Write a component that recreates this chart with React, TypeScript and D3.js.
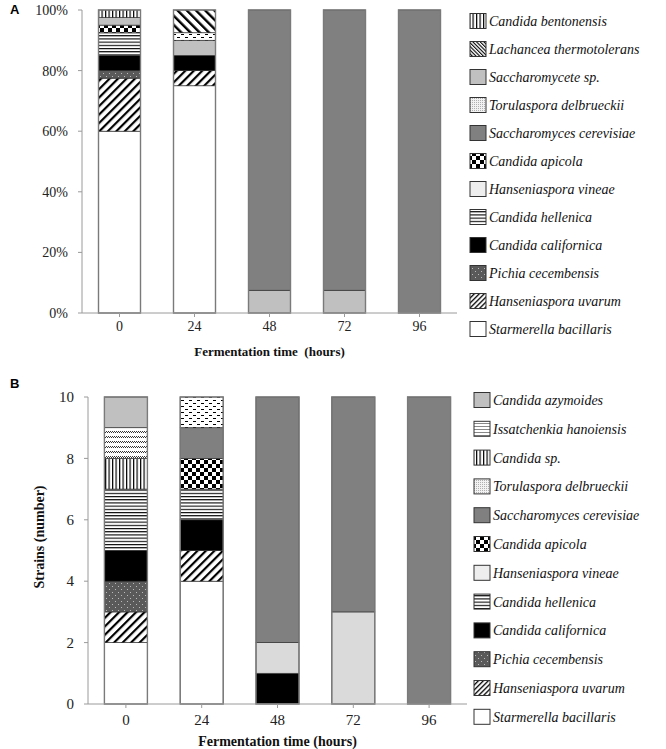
import React from "react";
import * as d3 from "d3";

// ---------- Data ----------
const times = ["0", "24", "48", "72", "96"];

// Panel A (% of isolates)
const speciesA = [
  "Starmerella bacillaris",
  "Hanseniaspora uvarum",
  "Pichia cecembensis",
  "Candida californica",
  "Candida hellenica",
  "Hanseniaspora vineae",
  "Candida apicola",
  "Saccharomyces cerevisiae",
  "Saccharomycete sp.",
  "Torulaspora delbrueckii",
  "Lachancea thermotolerans",
  "Candida bentonensis",
];
const valuesA: number[][] = [
  // 0h, 24h, 48h, 72h, 96h
  [60, 75, 0, 0, 0],
  [17.5, 5, 0, 0, 0],
  [2.5, 0, 0, 0, 0],
  [5, 5, 0, 0, 0],
  [7.5, 0, 0, 0, 0],
  [0, 0, 7.5, 7.5, 0],
  [2.5, 0, 0, 0, 0],
  [0, 0, 92.5, 92.5, 100],
  [2.5, 5, 0, 0, 0],
  [0, 2.5, 0, 0, 0],
  [0, 7.5, 0, 0, 0],
  [2.5, 0, 0, 0, 0],
];
const legendA = [
  "Candida bentonensis",
  "Lachancea thermotolerans",
  "Saccharomycete sp.",
  "Torulaspora delbrueckii",
  "Saccharomyces cerevisiae",
  "Candida apicola",
  "Hanseniaspora vineae",
  "Candida hellenica",
  "Candida californica",
  "Pichia cecembensis",
  "Hanseniaspora uvarum",
  "Starmerella bacillaris",
];
const ticksA = [0, 20, 40, 60, 80, 100];

// Panel B (number of strains)
const speciesB = [
  "Starmerella bacillaris",
  "Hanseniaspora uvarum",
  "Pichia cecembensis",
  "Candida californica",
  "Candida hellenica",
  "Hanseniaspora vineae",
  "Candida apicola",
  "Saccharomyces cerevisiae",
  "Torulaspora delbrueckii",
  "Candida sp.",
  "Issatchenkia hanoiensis",
  "Candida azymoides",
];
const valuesB: number[][] = [
  [2, 4, 0, 0, 0],
  [1, 1, 0, 0, 0],
  [1, 0, 0, 0, 0],
  [1, 1, 1, 0, 0],
  [2, 1, 0, 0, 0],
  [0, 0, 1, 3, 0],
  [0, 1, 0, 0, 0],
  [0, 1, 8, 7, 10],
  [0, 1, 0, 0, 0],
  [1, 0, 0, 0, 0],
  [1, 0, 0, 0, 0],
  [1, 0, 0, 0, 0],
];
const legendB = [
  "Candida azymoides",
  "Issatchenkia hanoiensis",
  "Candida sp.",
  "Torulaspora delbrueckii",
  "Saccharomyces cerevisiae",
  "Candida apicola",
  "Hanseniaspora vineae",
  "Candida hellenica",
  "Candida californica",
  "Pichia cecembensis",
  "Hanseniaspora uvarum",
  "Starmerella bacillaris",
];
const ticksB = [0, 2, 4, 6, 8, 10];

// ---------- Styles ----------
const fills: Record<string, string> = {
  "Starmerella bacillaris": "#ffffff",
  "Hanseniaspora uvarum": "url(#p-diag)",
  "Pichia cecembensis": "url(#p-dots)",
  "Candida californica": "#000000",
  "Candida hellenica": "url(#p-hlines)",
  "Hanseniaspora vineae": "#dadada",
  "Candida apicola": "url(#p-check)",
  "Saccharomyces cerevisiae": "#808080",
  "Saccharomycete sp.": "#c0c0c0",
  "Torulaspora delbrueckii": "url(#p-dash)",
  "Lachancea thermotolerans": "url(#p-bdiag)",
  "Candida bentonensis": "url(#p-vlines)",
  "Candida sp.": "url(#p-vlines)",
  "Issatchenkia hanoiensis": "url(#p-wave)",
  "Candida azymoides": "#c0c0c0",
};
const legendFills: Record<string, string> = {
  ...fills,
  "Hanseniaspora vineae": "#eeeeee",
  "Torulaspora delbrueckii": "url(#p-stipple)",
  "Lachancea thermotolerans": "url(#p-bdiag-fine)",
  "Hanseniaspora uvarum": "url(#p-diag-fine)",
  "Issatchenkia hanoiensis": "url(#p-hlines-light)",
};

const serif = "'Liberation Serif', 'Times New Roman', serif";

function Patterns() {
  return (
    <defs>
      <pattern id="p-vlines" width={3.5} height={4} patternUnits="userSpaceOnUse">
        <rect width={3.5} height={4} fill="#fff" />
        <rect x={0} width={1.2} height={4} fill="#000" />
      </pattern>
      <pattern id="p-hlines" width={4} height={3.2} patternUnits="userSpaceOnUse">
        <rect width={4} height={3.2} fill="#fff" />
        <rect y={0} width={4} height={1.1} fill="#000" />
      </pattern>
      <pattern id="p-hlines-light" width={4} height={3} patternUnits="userSpaceOnUse">
        <rect width={4} height={3} fill="#fff" />
        <rect y={0} width={4} height={1} fill="#888" />
      </pattern>
      <pattern id="p-diag" width={6} height={6} patternUnits="userSpaceOnUse" patternTransform="rotate(45)">
        <rect width={6} height={6} fill="#fff" />
        <rect x={0} width={2.2} height={6} fill="#000" />
      </pattern>
      <pattern id="p-diag-fine" width={3.5} height={4} patternUnits="userSpaceOnUse" patternTransform="rotate(45)">
        <rect width={3.5} height={4} fill="#fff" />
        <rect x={0} width={1.3} height={4} fill="#000" />
      </pattern>
      <pattern id="p-bdiag" width={6.5} height={6} patternUnits="userSpaceOnUse" patternTransform="rotate(-45)">
        <rect width={6.5} height={6} fill="#fff" />
        <rect x={0} width={2.4} height={6} fill="#000" />
      </pattern>
      <pattern id="p-bdiag-fine" width={2.6} height={4} patternUnits="userSpaceOnUse" patternTransform="rotate(-45)">
        <rect width={2.6} height={4} fill="#fff" />
        <rect x={0} width={1.1} height={4} fill="#000" />
      </pattern>
      <pattern id="p-check" width={8} height={8} patternUnits="userSpaceOnUse">
        <rect width={8} height={8} fill="#fff" />
        <rect x={0} y={0} width={4} height={4} fill="#000" />
        <rect x={4} y={4} width={4} height={4} fill="#000" />
      </pattern>
      <pattern id="p-dash" width={8} height={6} patternUnits="userSpaceOnUse">
        <rect width={8} height={6} fill="#fff" />
        <rect x={1} y={1} width={3} height={1} fill="#000" />
        <rect x={5} y={4} width={3} height={1} fill="#000" />
      </pattern>
      <pattern id="p-stipple" width={2} height={2} patternUnits="userSpaceOnUse">
        <rect width={2} height={2} fill="#f2f2f2" />
        <rect x={0} y={0} width={1} height={1} fill="#b0b0b0" />
      </pattern>
      <pattern id="p-dots" width={6} height={6} patternUnits="userSpaceOnUse">
        <rect width={6} height={6} fill="#5a5a5a" />
        <rect x={1} y={1} width={1} height={1} fill="#bbb" />
        <rect x={4} y={4} width={1} height={1} fill="#bbb" />
      </pattern>
      <pattern id="p-wave" width={4} height={5} patternUnits="userSpaceOnUse">
        <rect width={4} height={5} fill="#fff" />
        <path d="M0,1 L2,3 M2,1 L4,3" stroke="#000" strokeWidth={0.8} />
      </pattern>
    </defs>
  );
}

type PanelProps = {
  species: string[];
  values: number[][];
  legend: string[];
  ticks: number[];
  yMax: number;
  yTop: number;
  yBottom: number;
  xLeft: number;
  xRight: number;
  barW: number;
  fmt: (v: number) => string;
  tickLabelX: number;
  tickLabelY: number;
  titleY: number;
  titleText: string;
  titleSize: number;
  tickSize: number;
  legendX: number;
  legendY0: number;
  legendStep: number;
  letter: string;
  letterY: number;
  barFills: Record<string, string>;
  yTitle?: string;
  yTitleY?: number;
};

function Panel(p: PanelProps) {
  const y = d3.scaleLinear().domain([0, p.yMax]).range([p.yBottom, p.yTop]);
  const x = d3.scalePoint<string>().domain(times).range([p.xLeft, p.xRight]).padding(0.5);
  const rows = times.map((t, ti) => {
    const r: Record<string, number | string> = { time: t };
    p.species.forEach((s, si) => (r[s] = p.values[si][ti]));
    return r;
  });
  const stack = d3.stack<Record<string, any>>().keys(p.species)(rows as any);
  const midX = (p.xLeft + p.xRight) / 2;
  return (
    <g>
      <text x={10} y={p.letterY} fontFamily="'Liberation Sans', Arial, sans-serif" fontWeight="bold" fontSize={13}>
        {p.letter}
      </text>
      {/* bars */}
      {stack.map((layer) =>
        layer.map((seg, i) => {
          const h = y(seg[0]) - y(seg[1]);
          if (h <= 0.01) return null;
          const cx = x(times[i]) as number;
          return (
            <rect
              key={layer.key + i}
              x={cx - p.barW / 2}
              y={y(seg[1])}
              width={p.barW}
              height={h}
              fill={p.barFills[layer.key]}
              stroke="#333"
              strokeWidth={0.7}
            />
          );
        })
      )}
      {times.map((t) => (
        <rect
          key={"o" + t}
          x={(x(t) as number) - p.barW / 2}
          y={y(p.yMax)}
          width={p.barW}
          height={y(0) - y(p.yMax)}
          fill="none"
          stroke="#7a7a7a"
          strokeWidth={1.4}
        />
      ))}
      {/* y axis */}
      <line x1={p.xLeft} x2={p.xLeft} y1={p.yTop} y2={p.yBottom} stroke="#9a9a9a" strokeWidth={1} />
      {p.ticks.map((v) => (
        <g key={"yt" + v}>
          <line x1={p.xLeft - 4} x2={p.xLeft} y1={y(v)} y2={y(v)} stroke="#9a9a9a" />
          <text x={p.tickLabelX} y={y(v)} dy="0.35em" textAnchor="end" fontFamily={serif} fontSize={p.tickSize} fill="#222">
            {p.fmt(v)}
          </text>
        </g>
      ))}
      {/* x axis */}
      <line x1={p.xLeft} x2={p.xRight} y1={p.yBottom} y2={p.yBottom} stroke="#9a9a9a" strokeWidth={1} />
      {times.map((t) => (
        <g key={"xt" + t}>
          <line x1={x(t) as number} x2={x(t) as number} y1={p.yBottom} y2={p.yBottom + 4} stroke="#9a9a9a" />
          <text x={x(t) as number} y={p.tickLabelY} textAnchor="middle" fontFamily={serif} fontSize={p.tickSize} fill="#222">
            {t}
          </text>
        </g>
      ))}
      <text x={midX} y={p.titleY} textAnchor="middle" fontFamily={serif} fontWeight="bold" fontSize={p.titleSize} fill="#111" style={{ whiteSpace: "pre" }}>
        {p.titleText}
      </text>
      {p.yTitle && (
        <text
          transform={`translate(44,${p.yTitleY}) rotate(-90)`}
          textAnchor="middle"
          fontFamily={serif}
          fontWeight="bold"
          fontSize={14}
          fill="#111"
        >
          {p.yTitle}
        </text>
      )}
      {/* legend */}
      {p.legend.map((s, i) => {
        const cy = p.legendY0 + i * p.legendStep;
        return (
          <g key={"lg" + s}>
            <rect x={p.legendX} y={cy - 7.5} width={16} height={15} fill={legendFills[s]} stroke="#333" strokeWidth={1} />
            <text x={p.legendX + 19} y={cy} dy="0.35em" fontFamily={serif} fontStyle="italic" fontSize={14} fill="#111">
              {s}
            </text>
          </g>
        );
      })}
    </g>
  );
}

export default function App() {
  const fillsA = { ...fills, "Hanseniaspora vineae": "#c0c0c0" };
  return (
    <svg width={666} height={749} style={{ display: "block", position: "absolute", left: 0, top: 0 }}>
      <rect width={666} height={749} fill="#fff" />
      <Patterns />
      <Panel
        species={speciesA}
        values={valuesA}
        legend={legendA}
        ticks={ticksA}
        yMax={100}
        yTop={10}
        yBottom={313}
        xLeft={82}
        xRight={457}
        barW={42}
        fmt={(v) => v + "%"}
        tickLabelX={68}
        tickLabelY={331}
        titleY={356}
        titleText={"Fermentation time  (hours)"}
        titleSize={13}
        tickSize={14}
        legendX={470}
        legendY0={21}
        legendStep={28}
        letter="A"
        letterY={14}
        barFills={fillsA}
      />
      <Panel
        species={speciesB}
        values={valuesB}
        legend={legendB}
        ticks={ticksB}
        yMax={10}
        yTop={397}
        yBottom={704}
        xLeft={88}
        xRight={467}
        barW={43}
        fmt={(v) => String(v)}
        tickLabelX={74}
        tickLabelY={725}
        titleY={746}
        titleText={"Fermentation time (hours)"}
        titleSize={14}
        tickSize={15}
        legendX={474}
        legendY0={400}
        legendStep={28.8}
        letter="B"
        letterY={388}
        barFills={fills}
        yTitle="Strains (number)"
        yTitleY={537}
      />
    </svg>
  );
}
